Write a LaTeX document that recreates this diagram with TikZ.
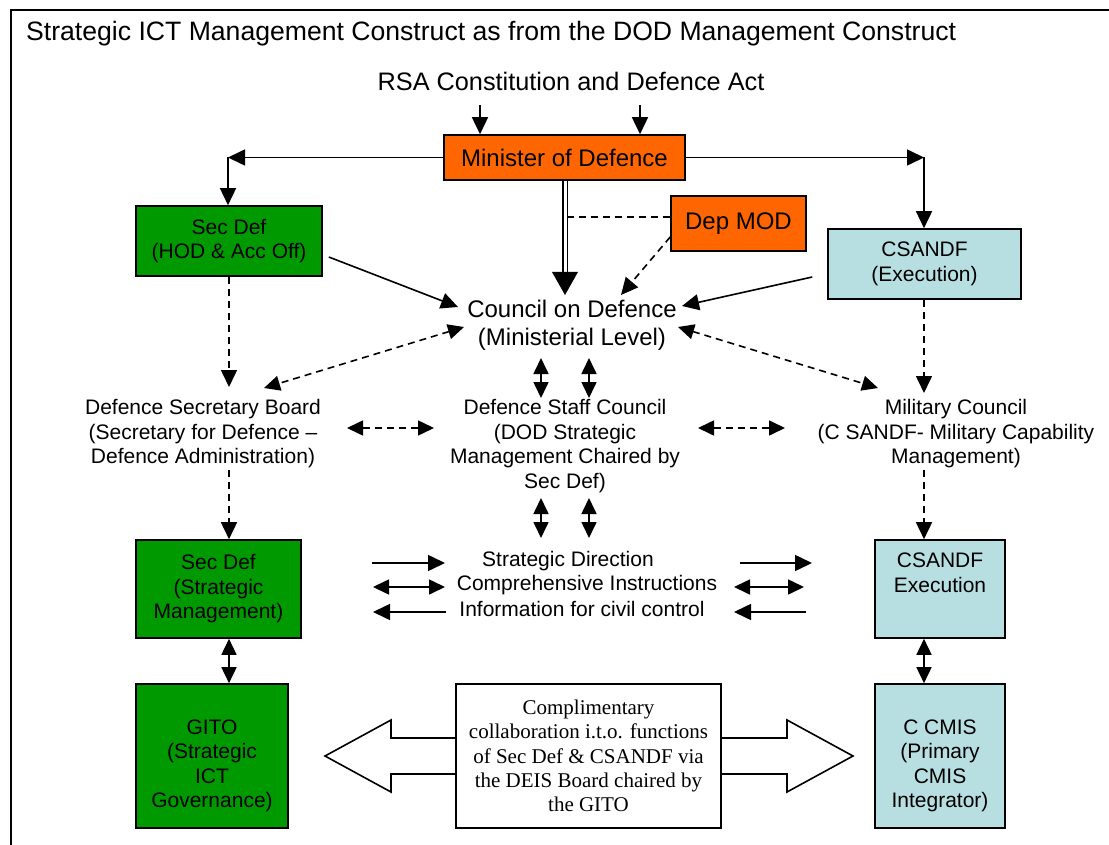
\documentclass[tikz,border=0pt]{standalone}
\usepackage{fontspec}
\setmainfont{Liberation Sans}
\newfontfamily\serifbox{Liberation Serif}
\usetikzlibrary{arrows.meta,calc}
\definecolor{orng}{HTML}{FF6600}
\definecolor{grn}{HTML}{009900}
\definecolor{lblue}{HTML}{B7DFE1}
\newcommand\fsA{\fontsize{21}{24.5}\selectfont}
\newcommand\fsB{\fontsize{24}{28}\selectfont}
\tikzset{
  box/.style={draw=black, line width=1.6pt, inner sep=0pt, align=center, font=\fsA},
  txt/.style={inner sep=0pt, align=center, font=\fsA},
  arr/.style={line width=1.6pt, -{Triangle[length=17pt,width=16pt]}},
  darr/.style={line width=1.6pt, {Triangle[length=16pt,width=15pt]}-{Triangle[length=16pt,width=15pt]}},
  dsh/.style={line width=1.6pt, dash pattern=on 7pt off 5pt},
}
\begin{document}
\begin{tikzpicture}[x=1pt,y=-1pt]
\useasboundingbox (0,0) rectangle (1109,845);
% frame
\draw[line width=1.8pt] (11,860) -- (11,10) -- (1120,10);
% title
\node[anchor=west, inner sep=0pt, font=\fontsize{26.6}{30}\selectfont] (title) at (26,34) {Strategic ICT Management Construct as from the DOD Management Construct};
\node[inner sep=0pt, font=\fontsize{25.3}{29}\selectfont] (rsa) at (571,81) {RSA Constitution and Defence Act};
% boxes
\node[box, fill=orng, font=\fsB, minimum width=241pt, minimum height=45pt] (minister) at (564.5,157.5) {Minister of Defence};
\node[box, fill=orng, font=\fsB, minimum width=135pt, minimum height=55pt] (depmod) at (738.5,223.5) {Dep MOD};
\node[box, fill=grn, minimum width=186pt, minimum height=70pt] (secdef) at (229,241) {Sec Def\\(HOD \& Acc Off)};
\node[box, fill=lblue, minimum width=193pt, minimum height=70pt] (csandf) at (924.5,264) {CSANDF\\(Execution)};
\node[txt, font=\fsB] (council) at (572,325) {Council on Defence\\(Ministerial Level)};
\node[txt] (dsb) at (203,434) {Defence Secretary Board\\(Secretary for Defence --\\Defence Administration)};
\node[txt] (dsc) at (565,446) {Defence Staff Council\\(DOD Strategic\\Management Chaired by\\Sec Def)};
\node[txt] (milc) at (956,434) {Military Council\\(C SANDF- Military Capability\\Management)};
\node[box, fill=grn, minimum width=165pt, minimum height=98pt] (secdef2) at (218.5,589) {Sec Def\\(Strategic\\Management)};
\node[box, fill=lblue, minimum width=130pt, minimum height=98pt] (csandf2) at (940,589) {};
\node[txt] (csandf2t) at (940,573) {CSANDF\\Execution};
\node[box, fill=grn, minimum width=152pt, minimum height=144pt] (gito) at (212,756) {};
\node[txt] (gitot) at (212,766) {GITO\\(Strategic\\ICT\\Governance)};
\node[box, fill=lblue, minimum width=130pt, minimum height=144pt] (ccmis) at (940,756) {};
\node[txt] (ccmist) at (940,766) {C CMIS\\(Primary\\CMIS\\Integrator)};
\node[txt] (sd) at (568,561) {Strategic Direction};
\node[txt] (ci) at (587,585) {Comprehensive Instructions};
\node[txt] (ic) at (582,609) {Information for civil control};
% collaboration block arrow
\node[box, fill=white, minimum width=265pt, minimum height=144pt, font={\serifbox\fontsize{21}{24.3}\selectfont}] (collab) at (588.5,756) {Complimentary\\collaboration i.t.o. functions\\of Sec Def \& CSANDF via\\the DEIS Board chaired by\\the GITO};
\draw[line width=1.6pt, line join=miter] (collab.west |- 0,738) -- (391,738) -- (391,720) -- (325,756) -- (391,792) -- (391,774) -- (collab.west |- 0,774);
\draw[line width=1.6pt, line join=miter] (collab.east |- 0,738) -- (787,738) -- (787,720) -- (853,756) -- (787,792) -- (787,774) -- (collab.east |- 0,774);
% top connectors
\coordinate (r1) at (480,105);
\coordinate (r2) at (640,105);
\draw[arr] (r1) -- (r1 |- minister.north);
\draw[arr] (r2) -- (r2 |- minister.north);
\coordinate (cl) at (228,157.5);
\coordinate (cr) at (924,157.5);
\draw[arr] (minister.west) -- (cl);
\draw[arr] (cl) -- (cl |- secdef.north);
\draw[arr] (minister.east) -- (cr);
\draw[arr] (cr) -- (cr |- csandf.north);
% double line
\coordinate (cd) at (565,295);
\draw[line width=1.7pt, double distance=3pt, shorten >=18pt] (minister.south -| cd) -- (cd);
\fill (cd) -- (552,272) -- (578,272) -- cycle;
\draw[dsh] ([yshift=6.5pt]depmod.west) -- (568,217);
\coordinate (cdm) at (621,295);
\draw[dsh, arr] ([yshift=-13.5pt]depmod.west) -- (cdm);
\coordinate (csl) at (458,307);
\draw[arr] ([xshift=6pt,yshift=-16pt]secdef.east) -- (csl);
\coordinate (csr) at (682,306);
\draw[arr] ([xshift=-15pt,yshift=-13pt]csandf.west) -- (csr);
% dashed
\coordinate (c1) at (464,327);
\coordinate (b1) at (264,388);
\draw[dsh, darr] (c1) -- (b1);
\coordinate (c2) at (678,327);
\coordinate (m1) at (878,388);
\draw[dsh, darr] (c2) -- (m1);
\coordinate (sdd) at (229,387);
\draw[dsh, arr] (secdef.south -| sdd) -- (sdd);
\coordinate (csd) at (924,393);
\draw[dsh, arr] (csandf.south -| csd) -- (csd);
\coordinate (v1a) at (541,358); \coordinate (v1b) at (541,398);
\coordinate (v2a) at (589,358); \coordinate (v2b) at (589,398);
\draw[darr] (v1a) -- (v1b);
\draw[darr] (v2a) -- (v2b);
\coordinate (h1a) at (347,428); \coordinate (h1b) at (434,428);
\coordinate (h2a) at (698,428); \coordinate (h2b) at (785,428);
\draw[dsh, darr] (h1a) -- (h1b);
\draw[dsh, darr] (h2a) -- (h2b);
\coordinate (bd) at (229,470);
\draw[dsh, arr] (bd) -- (bd |- secdef2.north);
\coordinate (md) at (924,470);
\draw[dsh, arr] (md) -- (md |- csandf2.north);
\coordinate (w1a) at (541,498); \coordinate (w1b) at (541,538);
\coordinate (w2a) at (589,498); \coordinate (w2b) at (589,538);
\draw[darr] (w1a) -- (w1b);
\draw[darr] (w2a) -- (w2b);
% rows
\coordinate (l1a) at (372,563); \coordinate (l1b) at (445,563);
\coordinate (l2a) at (373,587); \coordinate (l2b) at (445,587);
\coordinate (l3a) at (373,612); \coordinate (l3b) at (446,612);
\draw[arr] (l1a) -- (l1b);
\draw[darr] (l2a) -- (l2b);
\draw[arr] (l3b) -- (l3a);
\coordinate (q1a) at (740,563); \coordinate (q1b) at (812,563);
\coordinate (q2a) at (734,587); \coordinate (q2b) at (804,587);
\coordinate (q3a) at (734,612); \coordinate (q3b) at (806,612);
\draw[arr] (q1a) -- (q1b);
\draw[darr] (q2a) -- (q2b);
\draw[arr] (q3b) -- (q3a);
% box links
\coordinate (g1) at (229,0);
\draw[darr] (secdef2.south -| g1) -- (gito.north -| g1);
\coordinate (g2) at (924,0);
\draw[darr] (csandf2.south -| g2) -- (ccmis.north -| g2);
\end{tikzpicture}
\end{document}
